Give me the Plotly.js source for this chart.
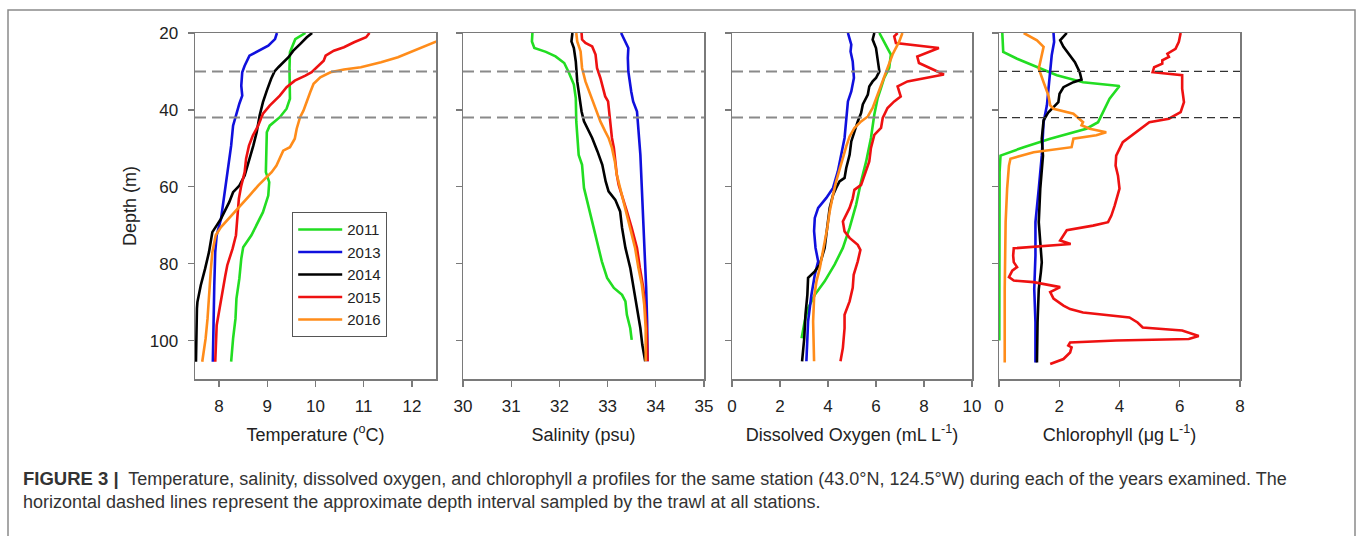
<!DOCTYPE html>
<html>
<head>
<meta charset="utf-8">
<script src="https://cdn.plot.ly/plotly-3.0.1.min.js"></script>
<style>
html,body{margin:0;padding:0;background:#fff;}
#chart{width:1357px;height:536px;}
</style>
</head>
<body>
<div id="chart"></div>
<script>
// ---------------- DATA ----------------
const years = ['2011', '2013', '2014', '2015', '2016'];
const yearColors = ['#22DD22', '#1010DD', '#000000', '#EE1111', '#FF8C1A'];
const trawlDepths = [30, 42];
const depthTicks = [20, 40, 60, 80, 100];

// Temperature (°C)
const temp2011Depth = [20,21.6,25.0,29.4,37.1,39.7,41.9,44.1,45.8,51.0,56.2,58.8,62.3,66.6,70.0,72.6,75.7,78.7,83.9,89.1,94.3,99.5,105.5];
const temp2011 = [9.79,9.58,9.47,9.46,9.47,9.40,9.26,9.05,8.99,8.98,8.97,9.04,9.02,8.91,8.78,8.67,8.50,8.46,8.42,8.36,8.34,8.29,8.25];
const temp2013Depth = [20,21.6,23.3,24.6,25.9,28.5,30.2,33.7,36.3,38.4,41.5,44.1,49.3,55.3,62.3,68.3,72.6,77.0,85.6,94.3,105.5];
const temp2013 = [9.20,9.16,9.02,8.81,8.63,8.53,8.48,8.46,8.48,8.42,8.35,8.29,8.25,8.18,8.11,8.04,7.95,7.92,7.90,7.89,7.87];
const temp2014Depth = [20,21.1,22.9,24.6,26.3,27.6,28.9,30.0,31.9,35.0,38.0,41.5,45.8,49.3,52.7,57.1,59.7,61.4,64.0,68.3,71.8,77.0,81.3,85.6,90.0,91.7,105.5];
const temp2014 = [9.93,9.82,9.68,9.54,9.44,9.33,9.23,9.15,9.08,8.99,8.91,8.84,8.78,8.71,8.63,8.53,8.42,8.29,8.21,8.04,7.86,7.79,7.71,7.62,7.55,7.54,7.52];
const temp2015Depth = [20,21.1,22.4,23.7,24.6,25.9,27.2,28.9,30.2,31.1,32.4,34.1,36.3,38.9,41.0,44.1,46.7,49.3,52.7,56.2,59.7,63.1,66.6,70.0,72.6,76.1,80.4,83.0,87.4,91.7,96.0,105.5];
const temp2015 = [11.12,11.05,10.80,10.59,10.38,10.21,10.17,10.03,9.92,9.79,9.57,9.40,9.26,9.05,8.91,8.81,8.70,8.62,8.56,8.53,8.46,8.41,8.39,8.36,8.35,8.28,8.17,8.13,8.07,8.00,7.95,7.92];
const temp2016Depth = [20,22.0,24.6,26.3,27.6,28.9,29.5,30.2,31.5,33.2,35.4,38.0,40.2,41.9,44.9,47.5,49.7,50.6,52.7,54.5,56.2,57.9,59.7,62.3,65.7,68.3,70.5,72.6,77.0,81.3,90.0,94.3,99.5,105.5];
const temp2016 = [12.93,12.55,12.06,11.71,11.36,10.94,10.59,10.31,10.10,9.96,9.89,9.82,9.75,9.68,9.61,9.57,9.47,9.33,9.26,9.19,9.09,8.95,8.81,8.63,8.39,8.21,8.04,7.93,7.86,7.83,7.79,7.76,7.72,7.65];

// Salinity (psu)
const sal2011Depth = [20,22.2,23.9,24.9,26.1,27.8,30.4,33.4,36.9,43.0,51.7,54.3,60.3,65.5,72.5,79.4,83.7,86.3,88.1,89.8,93.3,96.8,99.8];
const sal2011 = [31.44,31.43,31.48,31.72,31.92,32.10,32.20,32.30,32.34,32.35,32.40,32.47,32.51,32.61,32.75,32.88,32.99,33.13,33.30,33.37,33.40,33.47,33.50];
const sal2013Depth = [20,22.2,23.9,26.5,30.0,35.2,37.8,40.4,45.6,51.7,60.3,69.0,77.7,86.3,95.0,105.4];
const sal2013 = [33.28,33.36,33.43,33.42,33.43,33.49,33.53,33.61,33.64,33.68,33.71,33.74,33.78,33.80,33.82,33.83];
const sal2014Depth = [20,22.2,23.9,27.4,32.6,36.9,40.4,43.0,44.7,47.3,50.8,54.3,58.6,61.2,63.4,66.4,70.7,75.9,81.1,86.3,91.6,96.8,101.1,105.4];
const sal2014 = [32.27,32.25,32.30,32.34,32.37,32.42,32.46,32.51,32.58,32.68,32.79,32.89,32.96,33.02,33.16,33.26,33.30,33.37,33.47,33.54,33.61,33.68,33.72,33.78];
const sal2015Depth = [20,21.7,22.6,23.5,25.6,29.1,31.7,34.3,36.5,37.8,41.2,44.7,47.3,49.9,53.4,56.8,59.5,62.1,66.4,70.7,75.9,81.1,86.3,91.6,96.8,105.4];
const sal2015 = [32.46,32.47,32.54,32.68,32.75,32.78,32.85,32.90,32.95,33.01,33.04,33.06,33.09,33.13,33.16,33.19,33.23,33.30,33.40,33.50,33.61,33.67,33.74,33.78,33.81,33.83];
const sal2016Depth = [20,22.2,24.8,29.1,32.6,36.0,39.5,43.0,45.6,47.3,49.9,53.4,56.8,60.3,65.5,70.7,75.9,81.1,85.5,90.7,96.8,105.4];
const sal2016 = [32.35,32.37,32.44,32.47,32.54,32.64,32.75,32.85,32.95,33.02,33.09,33.15,33.19,33.26,33.37,33.47,33.57,33.64,33.71,33.76,33.79,33.79];

// Dissolved oxygen (mL L-1)
const oxy2011Depth = [20,22.2,25.6,29.1,31.7,34.3,36.9,41.2,47.3,53.4,58.6,64.7,70.7,75.9,80.2,84.6,88.1,91.6,95.0,99.4];
const oxy2011 = [6.14,6.34,6.62,6.55,6.34,6.21,6.07,5.93,5.79,5.59,5.38,5.17,4.90,4.62,4.28,3.86,3.45,3.17,3.03,2.90];
const oxy2013Depth = [20,21.3,23.0,24.8,27.4,31.7,35.2,37.8,42.1,47.3,51.7,56.0,60.3,62.9,65.5,68.1,71.5,75.9,79.4,82.9,88.1,95.0,105.4];
const oxy2013 = [4.83,4.90,4.97,4.94,5.03,5.08,4.97,4.83,4.76,4.69,4.55,4.41,4.21,3.93,3.59,3.45,3.42,3.48,3.59,3.45,3.31,3.17,3.10];
const oxy2014Depth = [20,21.7,23.9,26.5,30.0,31.7,32.6,33.9,36.0,38.6,40.8,43.0,45.6,48.2,51.7,55.1,57.7,58.6,60.3,62.1,65.5,70.7,75.9,80.2,82.0,83.7,88.1,93.3,99.4,105.4];
const oxy2014 = [5.93,5.86,6.00,6.07,6.14,6.00,5.86,5.72,5.66,5.45,5.38,5.24,5.10,4.97,4.90,4.76,4.69,4.48,4.34,4.21,4.07,3.97,3.86,3.66,3.45,3.17,3.14,3.06,3.01,2.92];
const oxy2015Depth = [20,20.9,22.6,23.9,26.1,27.8,30.8,31.7,32.6,33.9,35.2,36.5,37.8,39.5,42.1,44.7,46.5,48.2,49.9,53.4,56.8,59.5,60.8,63.0,65.5,69.0,71.6,73.3,75.1,76.4,79.4,82.9,86.3,89.8,93.3,96.8,101.9,105.4];
const oxy2015 = [6.90,6.76,6.83,8.62,7.72,7.79,8.83,8.00,7.31,6.90,6.97,7.03,6.76,6.48,6.28,6.21,5.93,5.86,5.79,5.72,5.52,5.38,5.10,5.03,4.90,4.62,4.69,4.90,5.24,5.35,5.24,5.07,5.03,4.90,4.69,4.69,4.62,4.52];
const oxy2016Depth = [20,22.2,25.6,29.1,32.6,36.0,39.5,41.7,43.0,44.7,46.9,49.5,52.5,55.1,58.6,62.1,66.4,70.7,75.9,81.1,84.6,88.9,95.0,105.4];
const oxy2016 = [7.10,6.97,6.69,6.48,6.28,6.07,5.86,5.66,5.38,5.10,4.90,4.76,4.62,4.48,4.34,4.21,4.07,3.97,3.83,3.66,3.52,3.42,3.38,3.42];

// Chlorophyll (µg L-1)
const chl2011Depth = [20,24.9,26.7,28.9,31.0,32.8,33.8,37.1,43.2,44.9,47.5,49.7,51.9,56.2,69.2,85.0,100.0];
const chl2011 = [0.11,0.14,0.60,1.26,1.92,2.79,4.00,3.67,3.29,2.90,1.70,0.82,0.05,0.02,0.01,0.01,0.01];
const chl2013Depth = [20,22.3,25.8,30.2,34.5,38.8,43.2,51.9,60.5,69.2,77.9,86.6,95.3,105.7];
const chl2013 = [1.81,1.83,1.75,1.70,1.64,1.59,1.48,1.42,1.32,1.21,1.21,1.17,1.21,1.21];
const chl2014Depth = [20,21.9,23.6,25.4,27.6,30.2,32.1,32.8,34.1,35.8,38.0,39.3,40.6,42.7,44.9,47.5,51.9,60.5,69.2,79.6,82.2,86.6,95.3,105.7];
const chl2014 = [2.25,2.03,2.14,2.30,2.52,2.68,2.74,2.47,2.14,2.01,1.97,1.81,1.64,1.48,1.46,1.42,1.46,1.37,1.32,1.42,1.39,1.32,1.28,1.26];
const chl2015Depth = [20,22.3,24.1,25.4,26.2,27.1,28.0,28.9,30.2,30.6,31.0,34.5,38.0,40.6,42.3,43.2,44.5,46.6,48.4,51.9,54.5,57.1,60.5,64.9,67.5,69.2,70.1,71.3,72.7,74.0,74.9,75.3,76.0,77.9,79.6,80.9,81.8,83.5,84.4,84.8,85.7,86.1,87.4,89.1,90.9,91.8,92.7,93.5,94.0,95.3,96.6,97.4,98.8,99.6,100.0,100.5,101.3,101.8,103.1,104.8,106.1];
const chl2015 = [6.03,5.97,5.86,5.59,5.64,5.42,5.42,5.15,5.10,5.64,6.08,6.08,6.14,6.03,5.64,4.99,4.77,4.44,4.11,3.89,3.87,3.95,4.00,3.84,3.73,3.62,3.12,2.25,2.14,2.03,2.38,1.70,0.49,0.47,0.49,0.60,0.44,0.33,0.49,1.15,1.81,2.03,1.70,1.81,2.14,2.36,2.79,3.67,4.33,4.60,4.77,6.08,6.63,6.30,3.89,2.36,2.30,2.41,2.36,2.14,1.70];
const chl2016Depth = [20,21.9,23.6,25.8,29.3,32.8,36.2,38.8,39.7,41.0,42.3,43.2,44.0,44.9,45.8,46.6,47.5,49.7,51.0,52.7,54.5,60.5,69.2,86.6,105.7];
const chl2016 = [0.82,1.26,1.48,1.42,1.32,1.48,1.64,1.70,1.81,2.47,2.68,2.79,2.74,3.01,3.56,3.23,2.47,2.41,1.15,0.38,0.33,0.27,0.22,0.19,0.19];

const panelTitles = ['Temperature (<sup>o</sup>C)', 'Salinity (psu)', 'Dissolved Oxygen (mL L<sup>-1</sup>)', 'Chlorophyll (\u03bcg L<sup>-1</sup>)'];
const panelRanges = [[7.5, 12.5], [30, 35], [0, 10], [0, 8]];
const panelDtick = [1, 1, 2, 2];
const captionBold = 'FIGURE 3 |';
const captionLine1 = 'Temperature, salinity, dissolved oxygen, and chlorophyll <i>a</i> profiles for the same station (43.0\u00b0N, 124.5\u00b0W) during each of the years examined. The';
const captionLine2 = 'horizontal dashed lines represent the approximate depth interval sampled by the trawl at all stations.';

const panelData = [
  [[temp2011, temp2011Depth], [temp2013, temp2013Depth], [temp2014, temp2014Depth], [temp2015, temp2015Depth], [temp2016, temp2016Depth]],
  [[sal2011, sal2011Depth], [sal2013, sal2013Depth], [sal2014, sal2014Depth], [sal2015, sal2015Depth], [sal2016, sal2016Depth]],
  [[oxy2011, oxy2011Depth], [oxy2013, oxy2013Depth], [oxy2014, oxy2014Depth], [oxy2015, oxy2015Depth], [oxy2016, oxy2016Depth]],
  [[chl2011, chl2011Depth], [chl2013, chl2013Depth], [chl2014, chl2014Depth], [chl2015, chl2015Depth], [chl2016, chl2016Depth]]
];

// ---------------- LAYOUT ----------------
const W = 1357, H = 536;
const panelPx = [[195, 436], [463, 704], [732, 972], [999, 1240]];
const plotTop = 33, plotBottom = 379;
const FONT = 'Liberation Sans, Arial, sans-serif';
const axisGrey = '#7a7a7a';

const traces = [];
panelData.forEach((series, p) => {
  series.forEach((s, k) => {
    traces.push({
      type: 'scatter', mode: 'lines',
      x: s[0], y: s[1],
      xaxis: p === 0 ? 'x' : 'x' + (p + 1),
      yaxis: p === 0 ? 'y' : 'y' + (p + 1),
      name: years[k],
      legendgroup: years[k],
      showlegend: p === 0,
      line: {color: yearColors[k], width: 2.6},
      hoverinfo: 'x+y+name'
    });
  });
});

const layout = {
  width: W, height: H,
  margin: {l: 0, r: 0, t: 0, b: 0},
  paper_bgcolor: '#ffffff', plot_bgcolor: '#ffffff',
  font: {family: FONT, color: '#222222', size: 17},
  showlegend: true,
  legend: {
    x: 292 / W, y: 1 - 212 / H, xanchor: 'left', yanchor: 'top',
    bgcolor: '#ffffff', bordercolor: '#555555', borderwidth: 1.2,
    font: {family: FONT, size: 15, color: '#222222'},
    tracegroupgap: 0, itemwidth: 44,
    entrywidth: 64
  },
  shapes: [],
  annotations: []
};

panelPx.forEach((px, p) => {
  const xa = p === 0 ? 'xaxis' : 'xaxis' + (p + 1);
  const ya = p === 0 ? 'yaxis' : 'yaxis' + (p + 1);
  const yid = p === 0 ? 'y' : 'y' + (p + 1);
  const xid = p === 0 ? 'x' : 'x' + (p + 1);
  layout[xa] = {
    domain: [px[0] / W, px[1] / W], anchor: yid,
    range: panelRanges[p], dtick: panelDtick[p], tick0: 0,
    showline: true, mirror: true, linecolor: axisGrey, linewidth: 1.5,
    ticks: 'outside', ticklen: 6, tickcolor: axisGrey, tickwidth: 1.3,
    showgrid: false, zeroline: false,
    ticklabelstandoff: 5,
    tickfont: {family: FONT, size: 17, color: '#222222'},
    title: {text: panelTitles[p], font: {family: FONT, size: 18, color: '#222222'}, standoff: 13}
  };
  layout[ya] = {
    domain: [1 - plotBottom / H, 1 - plotTop / H], anchor: xid,
    range: [110, 20], tickvals: depthTicks,
    showline: true, mirror: true, linecolor: axisGrey, linewidth: 1.5,
    ticks: 'outside', ticklen: 6, tickcolor: axisGrey, tickwidth: 1.3,
    showgrid: false, zeroline: false,
    showticklabels: p === 0,
    ticklabelstandoff: 6,
    tickfont: {family: FONT, size: 17, color: '#222222'},
    title: p === 0 ? {text: 'Depth (m)', font: {family: FONT, size: 18, color: '#222222'}, standoff: 8} : {text: ''}
  };
  trawlDepths.forEach(d => {
    layout.shapes.push({
      type: 'line', xref: xid + ' domain', yref: yid,
      x0: 0, x1: 1, y0: d, y1: d,
      line: p === 3 ? {color: '#333333', width: 1.3, dash: '8px,5px'} : {color: '#8a8a8a', width: 2, dash: '11px,6px'}
    });
  });
});

// outer frame around figure + caption
layout.shapes.push({
  type: 'rect', xref: 'paper', yref: 'paper',
  x0: 8 / W, x1: 1355 / W, y0: -0.05, y1: 1 - 10 / H,
  line: {color: '#8a8a8a', width: 1.5}, fillcolor: 'rgba(0,0,0,0)', layer: 'below'
});

layout.annotations.push({
  xref: 'paper', yref: 'paper', x: 21 / W, y: 1 - 466 / H,
  xanchor: 'left', yanchor: 'top', align: 'left', showarrow: false,
  text: '<b><span style="font-size:18.5px">' + captionBold + '</span></b>&nbsp; ' + captionLine1 + '<br>' + captionLine2,
  font: {family: FONT, size: 18, color: '#333333'}
});

Plotly.newPlot('chart', traces, layout, {displayModeBar: false, staticPlot: true});
</script>
</body>
</html>
